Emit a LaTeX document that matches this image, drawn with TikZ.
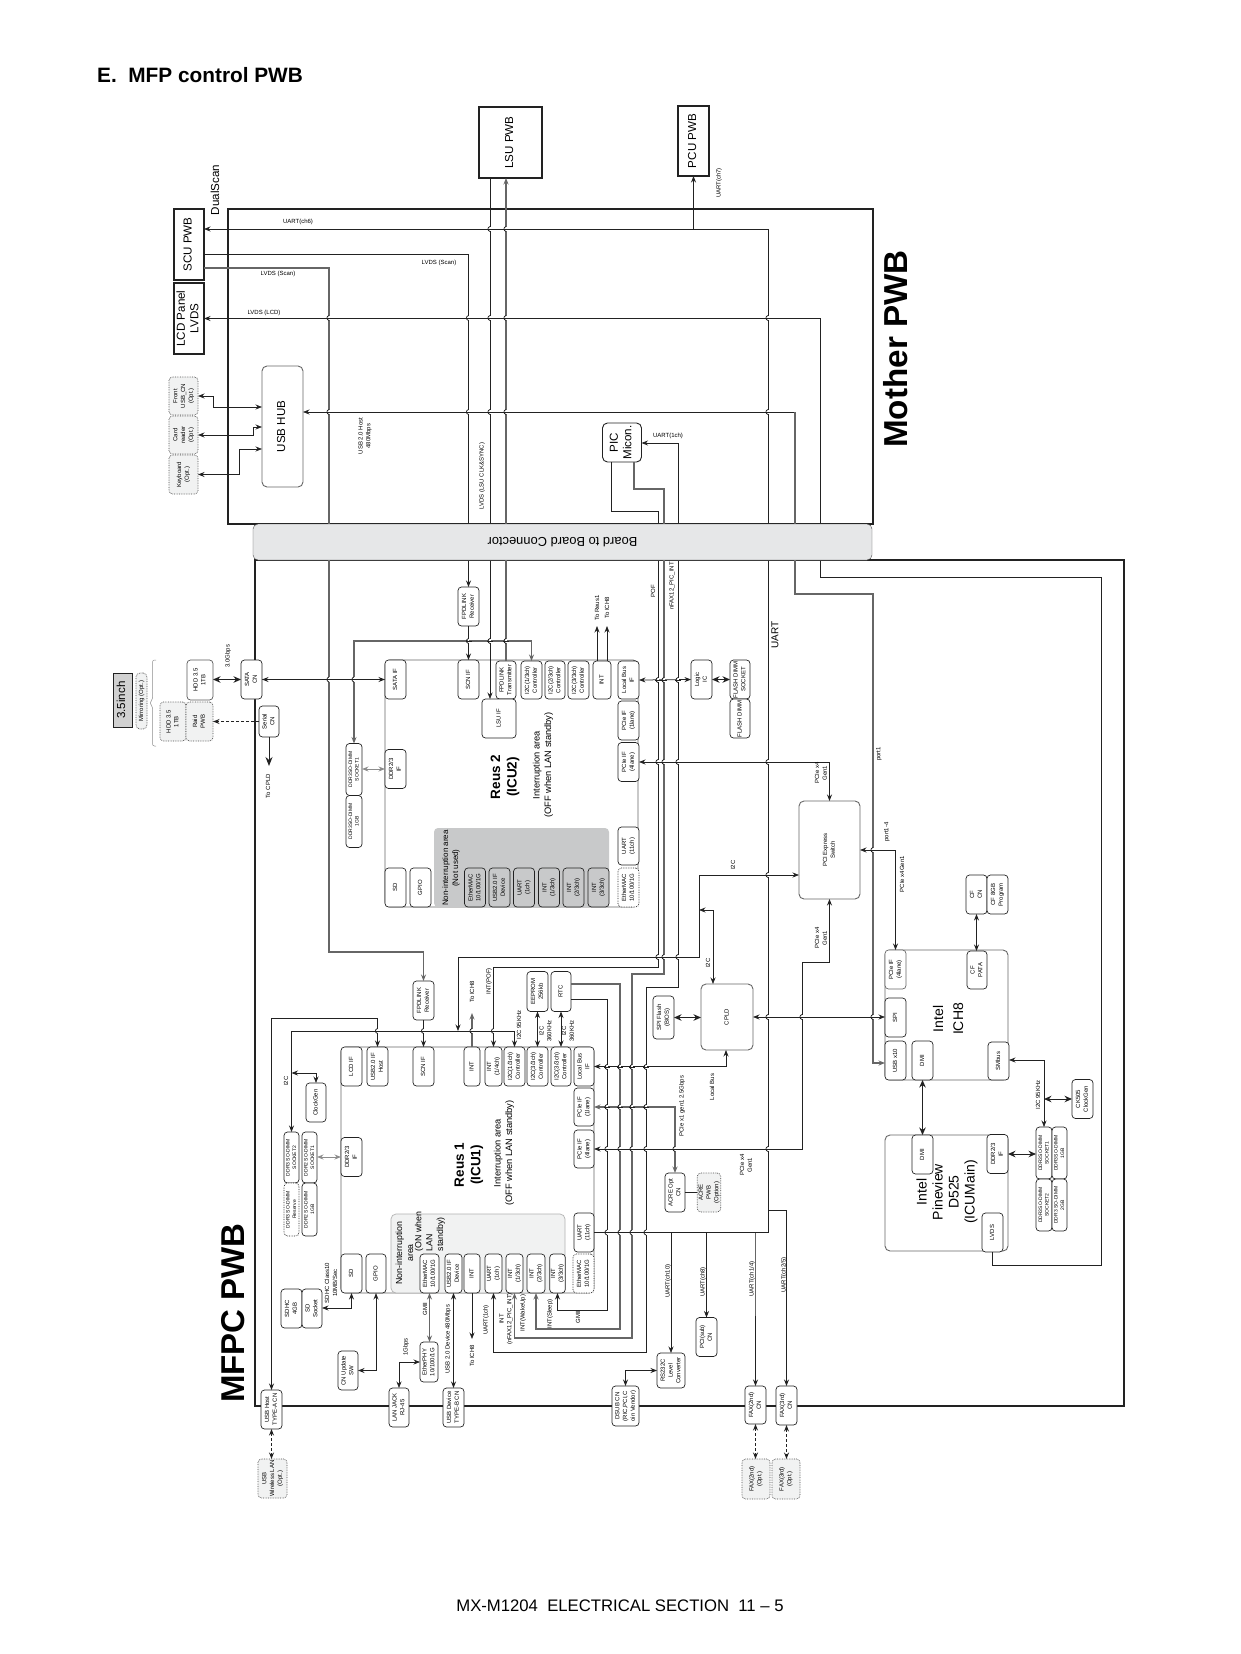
\documentclass[tikz,border=0pt]{standalone}
\usepackage{fontspec}
\usepackage{graphicx}
\setmainfont{Liberation Sans}
\usetikzlibrary{arrows.meta,calc}
\definecolor{cInk}{HTML}{222222}
\definecolor{cWire}{HTML}{666666}
\definecolor{cOpt}{HTML}{F1F2F2}
\definecolor{cBoard}{HTML}{E6E7E8}
\definecolor{cNon}{HTML}{C8C9CA}
\newcommand{\fA}{\fontsize{6}{7.8}\selectfont}
\newcommand{\fD}{\fontsize{5}{6.6}\selectfont}
\newcommand{\fB}{\fontsize{11.6}{13.5}\selectfont}
\newcommand{\fC}{\fontsize{9.3}{11.5}\selectfont}
\newcommand{\fE}{\fontsize{8}{10}\selectfont}
\newcommand{\rt}[1]{\rotatebox{90}{\begin{tabular}{@{}c@{}}#1\end{tabular}}}
\tikzset{
  sz/.style 2 args = {minimum width=#1pt, minimum height=#2pt},
  pin/.style   = {draw=cInk, rounded corners=3.5pt, fill=white, inner sep=0pt, outer sep=0pt,
                  line width=.7pt, minimum width=21pt, minimum height=39pt, font=\fA},
  dpin/.style  = {pin, densely dotted},
  opt/.style   = {pin, densely dotted, fill=cOpt, draw=black!70},
  dimm/.style  = {pin, minimum width=16pt, minimum height=52pt, font=\fD},
  pwb/.style   = {draw=cInk, line width=1.8pt, fill=white, inner sep=0pt, outer sep=0pt, font=\fB},
  frame/.style = {draw=cInk, line width=1.8pt, inner sep=0pt, outer sep=0pt},
  chip/.style  = {draw=black!60, rounded corners=5pt, fill=white, inner sep=0pt, outer sep=0pt,
                  line width=.9pt},
  wire/.style  = {draw=cInk, line width=.75pt},
  gwire/.style = {draw=cWire, line width=1.1pt},
  arr/.style   = {-{Stealth[length=6.5pt,width=5pt]}},
  rarr/.style  = {{Stealth[length=6.5pt,width=5pt]}-},
  dbl/.style   = {{Stealth[length=6.5pt,width=5pt]}-{Stealth[length=6.5pt,width=5pt]}},
  fat/.style   = {{Stealth[length=7.5pt,width=6.5pt]}-{Stealth[length=7.5pt,width=6.5pt]}, line width=1pt},
  lab/.style   = {font=\fA, rotate=90, align=center, inner sep=0pt},
  hlab/.style  = {font=\fA, align=center, inner sep=0pt},
  zone/.style  = {font=\fC, rotate=90, align=center, inner sep=0pt},
  hopw/.style  = {draw=white, line width=1.4pt},
  hopl/.style  = {draw=cInk, line width=.75pt},
}
\begin{document}
\begin{tikzpicture}[x=1pt, y=-1pt]
  \useasboundingbox (0,0) rectangle (1240,1654);
  \node[font=\fontsize{20.8}{24}\selectfont\bfseries, anchor=west, inner sep=0pt] (title) at (97,75) {E.\ \ MFP control PWB};
  \node[font=\fontsize{16.7}{20}\selectfont, inner sep=0pt] (foot) at (620,1605.5) {MX-M1204\ \ ELECTRICAL SECTION\ \ 11 -- 5};

  \node[frame, sz={645}{315}] (mother) at (550.5,366.5) {};
  \node[frame, sz={869}{846}] (mfpc) at (689.5,983) {};
  \node[font=\fontsize{33.2}{36}\selectfont\bfseries, rotate=90, inner sep=0pt] (mothert) at (896,349) {Mother PWB};
  \node[font=\fontsize{33}{36}\selectfont\bfseries, rotate=90, inner sep=0pt] (mfpct) at (233,1313) {MFPC PWB};
  \node[font=\fB, rotate=90, inner sep=0pt] (dual) at (215,190) {DualScan};

  \node[pwb, sz={63}{71}] (lsu) at (510.5,142.5) {\rt{LSU PWB}};
  \node[pwb, sz={31}{70}] (pcu) at (693.5,141) {\rt{PCU PWB}};
  \node[pwb, sz={30}{71}] (scu) at (189,244.5) {\rt{SCU PWB}};
  \node[pwb, sz={30}{71}] (lcd) at (189,318.5) {\rt{LCD Panel\\LVDS}};
  \node[chip, sz={41}{121}, font=\fB] (hub) at (282.5,426.5) {\rt{USB HUB}};
  \node[chip, sz={39}{39}, font=\fB, draw=cInk] (pic) at (622,442.5) {\rt{PIC\\Micon.}};
  \node[opt, sz={29}{38}] (front) at (183.5,396) {\rt{Front\\USB\_CN\\(Opt.)}};
  \node[opt, sz={29}{38}] (card) at (183.5,435) {\rt{Card\\reader\\(Opt.)}};
  \node[opt, sz={29}{39}] (keyb) at (183.5,474.5) {\rt{Keyboard\\(Opt.)}};

  \node[chip, sz={253}{247}] (reusb) at (511.5,783.5) {};
  \node[pin, draw=none, fill=cNon, rounded corners=4pt, sz={175}{79}] (nonb) at (521.5,867.5) {};
  \node[pin] (sataif) at (395.5,679.5) {\rt{SATA IF}};
  \node[pin] (ddrb) at (395.5,769) {\rt{DDR2/3\\IF}};
  \node[pin] (sdb) at (395.5,887.5) {\rt{SD}};
  \node[pin] (gpiob) at (420.5,887.5) {\rt{GPIO}};
  \node[pin] (scnb) at (468.5,679.5) {\rt{SCN IF}};
  \node[pin] (fpdb) at (468.5,606.5) {\rt{FPDLINK\\Receiver}};
  \node[pin, sz={20}{38}] (txb) at (506,680) {\rt{FPDLINK\\Transmitter}};
  \node[pin, sz={34}{39}] (lsuif) at (499,718.5) {\rt{LSU IF}};
  \node[pin, sz={21}{38}] (i2cba) at (531.5,680) {\rt{I2C(1/3ch)\\Controller}};
  \node[pin, sz={20}{38}] (i2cbb) at (555,680) {\rt{I2C(2/3ch)\\Controller}};
  \node[pin, sz={21}{38}] (i2cbc) at (578.5,680) {\rt{I2C(3/3ch)\\Controller}};
  \node[pin, sz={18}{38}] (intb) at (602,680) {\rt{INT}};
  \node[pin, sz={21}{38}] (lbb) at (628.5,680) {\rt{Local Bus\\IF}};
  \node[pin] (pcieba) at (628.5,720.5) {\rt{PCIe IF\\(1lane)}};
  \node[pin] (pciebb) at (628.5,762) {\rt{PCIe IF\\(4lane)}};
  \node[pin, sz={21}{38}] (uartbb) at (628.5,846) {\rt{UART\\(11ch)}};
  \node[dpin] (macbb) at (628.5,887.5) {\rt{EtherMAC\\10/100/1G}};
  \node[pin, fill=cNon] (macb) at (475,887.5) {\rt{EtherMAC\\10/100/1G}};
  \node[pin, fill=cNon] (usbdb) at (499.5,887.5) {\rt{USB2.0 IF\\Device}};
  \node[pin, fill=cNon] (uartb) at (524,887.5) {\rt{UART\\(1ch)}};
  \node[pin, fill=cNon] (intba) at (549,887.5) {\rt{INT\\(1/3ch)}};
  \node[pin, fill=cNon] (intbb) at (573.5,887.5) {\rt{INT\\(2/3ch)}};
  \node[pin, fill=cNon] (intbc) at (598.5,887.5) {\rt{INT\\(3/3ch)}};
  \node[zone, font=\fE] (nonbt) at (451,868) {Non-interruption area\\(Not used)};
  \node[zone, font=\fontsize{13.5}{16.5}\selectfont\bfseries] (reusbt) at (505,777) {Reus 2\\(ICU2)};
  \node[zone] (reusbc) at (543,765) {Interruption area\\(OFF when LAN standby)};

  \node[pin] (satacn) at (251.5,679.5) {\rt{SATA\\CN}};
  \node[pin, sz={26}{40}, draw=black!65] (hdda) at (200,680) {\rt{HDD 3.5\\1TB}};
  \node[opt, sz={26}{39}] (hddb) at (173,721.5) {\rt{HDD 3.5\\1TB}};
  \node[opt, sz={27}{39}] (raid) at (199.5,721.5) {\rt{Raid\\PWB}};
  \node[pin, sz={20}{31}] (serial) at (269,721.5) {\rt{Serial\\CN}};
  \node[opt, sz={11}{56}, rounded corners=4pt] (mirror) at (141.5,701) {\rt{Mirroring (Opt.)}};
  \node[draw=cInk, fill=black!18, sz={19}{54}, inner sep=0pt, font=\fB] (inch) at (122.5,700) {\rt{3.5inch}};
  \node[dimm] (sockb) at (354,769.5) {\rt{DDR3SO-DIMM\\SOCKET1}};
  \node[dimm] (ramb) at (354,821.5) {\rt{DDR3SO-DIMM\\1GB}};

  \node[pin] (logic) at (701.5,679.5) {\rt{Logic\\IC}};
  \node[pin, sz={20}{39}] (flashs) at (740,679.5) {\rt{FLASH DIMM\\SOCKET}};
  \node[pin, sz={20}{39}] (flashd) at (740,718.5) {\rt{FLASH DIMM}};
  \node[chip, sz={61}{98}, font=\fA] (switch) at (829.5,850) {\rt{PCI Express\\Switch}};
  \node[chip, sz={52}{66}, font=\fA] (cpld) at (727,1017) {\rt{CPLD}};
  \node[pin, sz={21}{43}] (spifl) at (663.5,1017.5) {\rt{SPI Flash\\(BIOS)}};

  \node[chip, sz={253}{246}] (reusa) at (467.5,1170) {};
  \node[pin, draw=black!30, fill=cOpt, rounded corners=5pt, sz={174}{79}] (nona) at (478,1253.5) {};
  \node[pin] (lcdif) at (351.5,1066.5) {\rt{LCD IF}};
  \node[pin] (usbha) at (377.5,1066.5) {\rt{USB2.0 IF\\Host}};
  \node[pin] (scna) at (423.5,1066.5) {\rt{SCN IF}};
  \node[pin] (fpda) at (423.5,1000.5) {\rt{FPDLINK\\Receiver}};
  \node[pin, sz={16}{39}] (inta) at (472,1066.5) {\rt{INT}};
  \node[pin, sz={17}{39}] (intp) at (493.5,1066.5) {\rt{INT\\(1/4ch)}};
  \node[pin] (i2caa) at (514.5,1066.5) {\rt{I2C(1/3ch)\\Controller}};
  \node[pin] (i2cab) at (537.5,1066.5) {\rt{I2C(3/3ch)\\Controller}};
  \node[pin, sz={20}{39}] (i2cac) at (561,1066.5) {\rt{I2C(3/3ch)\\Controller}};
  \node[pin, sz={20}{39}] (lba) at (584,1066.5) {\rt{Local Bus\\IF}};
  \node[pin, sz={20}{38}] (pcieaa) at (584,1107) {\rt{PCIe IF\\(1lane)}};
  \node[pin, sz={20}{38}] (pcieab) at (584,1149) {\rt{PCIe IF\\(4lane)}};
  \node[pin, sz={20}{39}] (uartaa) at (584,1232.5) {\rt{UART\\(11ch)}};
  \node[dpin, sz={21}{39}] (macaa) at (583.5,1273.5) {\rt{EtherMAC\\10/100/1G}};
  \node[pin, sz={21}{40}] (eeprom) at (537.5,991.5) {\rt{EEPROM\\256kb}};
  \node[pin, sz={20}{40}] (rtc) at (561,991.5) {\rt{RTC}};
  \node[pin] (ddra) at (351.5,1157) {\rt{DDR2/3\\IF}};
  \node[pin] (sda) at (351.5,1273.5) {\rt{SD}};
  \node[pin, sz={20}{39}] (gpioa) at (376,1273.5) {\rt{GPIO}};
  \node[pin, sz={19}{39}] (maca) at (429.5,1273.5) {\rt{EtherMAC\\10/100/1G}};
  \node[pin, sz={17}{39}] (usbda) at (453.5,1273.5) {\rt{USB2.0 IF\\Device}};
  \node[pin, sz={16}{39}] (intc) at (472,1273.5) {\rt{INT}};
  \node[pin, sz={17}{39}] (uarta) at (493.5,1273.5) {\rt{UART\\(1ch)}};
  \node[pin, sz={17}{39}] (intaa) at (514.5,1273.5) {\rt{INT\\(1/3ch)}};
  \node[pin, sz={18}{39}] (intab) at (536,1273.5) {\rt{INT\\(2/3ch)}};
  \node[pin, sz={15}{39}] (intac) at (557.5,1273.5) {\rt{INT\\(3/3ch)}};
  \node[zone, font=\fontsize{8.8}{10.8}\selectfont] (nonat) at (404.5,1253) {Non-interruption\\area};
  \node[zone, font=\fontsize{8.8}{10.8}\selectfont, align=left] (nonac) at (430,1231.5) {(ON when\\LAN\\standby)};
  \node[zone, font=\fontsize{13.5}{16.5}\selectfont\bfseries] (reusat) at (469,1165) {Reus 1\\(ICU1)};
  \node[zone] (reusac) at (504,1153) {Interruption area\\(OFF when LAN standby)};

  \node[dimm, sz={15}{51}] (socka) at (291.5,1157.5) {\rt{DDR3 SO-DIMM\\SOCKET2}};
  \node[dimm, sz={15}{53}, densely dotted] (resv) at (291.5,1209.5) {\rt{DDR3 SO-DIMM\\Reserve}};
  \node[dimm, sz={15}{51}] (sockc) at (309.5,1157.5) {\rt{DDR2 SO-DIMM\\SOCKET1}};
  \node[dimm, sz={15}{53}] (ramc) at (309.5,1209.5) {\rt{DDR2 SO-DIMM\\1GB}};
  \node[pin, sz={20}{39}] (clka) at (316,1102.5) {\rt{ClockGen}};
  \node[pin] (sdhc) at (291.5,1308.5) {\rt{SDHC\\4GB}};
  \node[pin, sz={20}{39}] (sdsock) at (312,1308.5) {\rt{SD\\Socket}};
  \node[pin, sz={20}{39}] (cnup) at (348,1370.5) {\rt{CN Update\\SW}};
  \node[pin, sz={18}{40}] (phy) at (429,1362) {\rt{EtherPHY\\10/100/1G}};
  \node[pin, sz={20}{39}] (lan) at (399,1407.5) {\rt{LAN JACK\\RJ-45}};
  \node[pin] (usbdev) at (453.5,1407.5) {\rt{USB Device\\TYPE-B CN}};
  \node[pin] (usbhost) at (271.5,1409.5) {\rt{USB Host\\TYPE-A CN}};
  \node[opt, sz={29}{39}] (wlan) at (272.5,1478.5) {\rt{USB\\Wireless LAN\\(Opt.)}};
  \node[pin, sz={27}{40}] (dsub) at (625.5,1406) {\rt{DSUB CN\\(RIC,PCI,C\\oin Vendor)}};
  \node[pin, sz={28}{35}] (rs232) at (671,1370.5) {\rt{RS232C\\Level\\Converter}};
  \node[pin] (pcisub) at (706.5,1337) {\rt{PCI(sub)\\CN}};
  \node[pin, sz={20}{39}] (acn) at (675,1192.5) {\rt{ACRE Opt\\CN}};
  \node[opt, sz={20}{39}] (acre) at (709,1192.5) {\rt{ACRE\\PWB\\(Option)}};
  \node[pin, sz={21}{38}] (faxb) at (755.5,1405) {\rt{FAX(2nd)\\CN}};
  \node[pin, sz={21}{39}] (faxc) at (786.5,1405.5) {\rt{FAX(3rd)\\CN}};
  \node[opt, sz={28}{40}] (faxbo) at (756,1479) {\rt{FAX(2nd)\\(Opt.)}};
  \node[opt, sz={28}{40}] (faxco) at (786,1479) {\rt{FAX(3rd)\\(Opt.)}};

  \node[chip, sz={123}{130}] (ich) at (946.5,1015) {};
  \node[pin, draw=black!60] (ichpcie) at (895.5,969.5) {\rt{PCIe IF\\(4lane)}};
  \node[pin] (ichspi) at (895.5,1017.5) {\rt{SPI}};
  \node[pin] (ichusb) at (895.5,1060.5) {\rt{USB x10}};
  \node[pin] (ichdmi) at (922.5,1060.5) {\rt{DMI}};
  \node[pin, sz={20}{38}] (ichcf) at (977,970) {\rt{CF\\PATA}};
  \node[pin, sz={21}{38}] (ichsm) at (998.5,1061) {\rt{SMbus}};
  \node[zone, font=\fontsize{14}{20}\selectfont] (icht) at (948,1019) {Intel\\ICH8};
  \node[pin] (cfcn) at (976.5,894.5) {\rt{CF\\CN}};
  \node[pin] (cfpg) at (997.5,894.5) {\rt{CF 8GB\\Program}};
  \node[chip, sz={123}{116}] (pine) at (946.5,1193) {};
  \node[pin] (pinedmi) at (922.5,1154.5) {\rt{DMI}};
  \node[pin] (pineddr) at (997.5,1154) {\rt{DDR2/3\\IF}};
  \node[pin] (pinelv) at (992.5,1232.5) {\rt{LVDS}};
  \node[zone, font=\fontsize{14}{16}\selectfont] (pinet) at (947,1192) {Intel\\Pineview\\D525\\(ICUMain)};
  \node[dimm] (socke) at (1044,1153) {\rt{DDR3SO-DIMM\\SOCKET1}};
  \node[dimm, sz={15}{52}] (rame) at (1059.5,1153) {\rt{DDR3SO-DIMM\\1GB}};
  \node[dimm] (sockf) at (1044,1205) {\rt{DDR3SO-DIMM\\SOCKET2}};
  \node[dimm, sz={15}{52}] (ramf) at (1059.5,1205) {\rt{DDR3 SO-DIMM\\2GB}};
  \node[pin] (ck) at (1082.5,1099) {\rt{CK505\\ClockGen}};

  \coordinate (i2cbus) at (458,1031);

  \draw[wire, rarr] (scu.east |- 0,229) -- (768,229) -- (768,1232.5) -- (uartaa.east);
  \draw[wire, arr] (693.5,229) -- (pcu.south);
  \draw[wire, arr] (768,1210) -- (786.5,1210) -- (faxc.north);
  \draw[wire, arr] (rs232.north |- 0,1232.5) -- (rs232.north);
  \draw[wire, arr] (pcisub.north |- 0,1232.5) -- (pcisub.north);
  \draw[gwire] (faxb.north |- 0,1232.5) -- (755.5,1316);
  \draw[wire, arr] (755.5,1316) -- (faxb.north);
  \draw[wire, arr] (scu.east |- 0,254) -| (fpdb.north);
  \draw[gwire, arr] (scu.east |- 0,268) -| (329,952) -| (fpda.north);
  \draw[wire, arr] (fpdb.south) -- (scnb.north);
  \draw[wire, arr] (fpda.south) -- (scna.north);
  \draw[wire, rarr] (lcd.east) -| (820,577) -| (1101,1265) -| (pinelv.south);
  \draw[wire, rarr] (hub.east |- 0,412) -- (795,412);
  \draw[gwire, arr] (795,412) |- (873,594) |- (ichusb.west |- 0,1063);
  \draw[wire, dbl] (front.east) -- (213,396) |- (hub.west |- 0,407);
  \draw[wire, dbl] (card.east) -- (253,435) |- (hub.west |- 0,427);
  \draw[wire, dbl] (keyb.east) -- (239,474.5) |- (hub.west |- 0,449);
  \draw[wire, arr] (490,0 |- lsu.south) -- (490,0 |- lsuif.north);
  \draw[gwire, arr] (506,0 |- txb.north) -- (lsu.south -| 506,0);
  \draw[wire, arr] (611,0 |- pic.south) |- (658,511) -- (658,967) -| (intp.north);
  \draw[gwire, arr] (634,0 |- pic.south) |- (664,489) -- (664,974) -| (632,1338) -| (intaa.south);
  \draw[wire, dbl] (pic.east |- 0,443) -| (678,987) -| (646,1352) -| (uarta.south);
  \draw[wire, arr] (rtc.east |- 0,999) -| (607,1310) -| (intac.south);
  \draw[gwire, arr] (rtc.east |- 0,984) -| (620,1329) -| (intab.south);
  \draw[gwire, dbl] (i2cba.north) |- (sockb.north |- 0,641) -- (sockb.north);
  \draw[gwire, line width=1.4pt] (satacn.east) -- (sataif.west);
  \draw[wire, dbl, line width=1pt] (satacn.east) -- (sataif.west);
  \draw[wire, fat] (hdda.east |- 0,679.5) -- (satacn.west);
  \draw[wire, densely dashed, arr, line width=.9pt] (serial.west) -- (raid.east);
  \draw[wire, -{Stealth[length=9pt,width=7pt]}, line width=1pt] (serial.south) -- (269,766);
  \draw[draw=black!45, dbl, line width=1pt] (sockb.east |- 0,769) -- (ddrb.west);
  \draw[wire, arr] (597,0 |- intb.north) -- (597,626);
  \draw[wire, arr] (607,0 |- intb.north) -- (607,626);
  \draw[wire, dbl] (lbb.east) -- (logic.west);
  \draw[wire, fat] (logic.east) -- (flashs.west);
  \draw[wire, dbl] (pciebb.east) -| (switch.north);
  \draw[wire, dbl] (switch.south) |- (802,962) |- (pcieab.east);
  \draw[wire, dbl] (switch.west |- 0,875) -| (699,957) -| (i2cbus);
  \draw[wire, dbl] (713,0 |- cpld.north) |- (699,910);
  \draw[wire, dbl] (cpld.east) -- (cpld.east -| ichspi.west);
  \draw[wire, fat] (spifl.east) -- (spifl.east -| cpld.west);
  \draw[wire, dbl] (lba.east) -| (726,0 |- cpld.south);
  \draw[gwire, dbl] (pcieaa.east) -| (acn.north);
  \draw[wire] (acn.east) -- (acre.west);
  \draw[wire, dbl] (rs232.west) -| (dsub.north);
  \draw[wire, dbl] (usbha.north) |- (usbhost.north |- 0,1018) -- (usbhost.north);
  \draw[wire, dbl] (i2caa.north) |- (socka.north |- 0,1031) -- (socka.north);
  \draw[wire, dbl] (clka.north) |- (socka.north |- 0,1073);
  \draw[draw=black!45, dbl, line width=1pt] (sockc.east |- 0,1157) -- (ddra.west);
  \draw[gwire, arr, line width=1.4pt] (inta.north) -- (inta.north |- 0,1013);
  \draw[wire, dbl] (eeprom.south) -- (i2cab.north);
  \draw[wire, dbl] (rtc.south) -- (i2cac.north);
  \draw[wire, dbl] (sda.south) |- (sdsock.east |- 0,1308);
  \draw[wire, dbl, line width=1pt] (gpioa.south) |- (cnup.east);
  \draw[gwire, dbl] (maca.south) -- (phy.north -| maca.south);
  \draw[wire, dbl] (phy.west) -| (lan.north);
  \draw[wire, dbl] (usbda.south) -- (usbdev.north);
  \draw[wire, arr] (intc.south) -- (472,1339);
  \draw[wire, densely dashed, dbl, line width=1pt] (usbhost.south) -- (wlan.north -| usbhost.south);
  \draw[wire, densely dashed, dbl, line width=1pt] (faxb.south) -- (faxbo.north -| faxb.south);
  \draw[wire, densely dashed, dbl, line width=1pt] (faxc.south) -- (faxco.north -| faxc.south);
  \draw[wire, dbl] (cfcn.south) -- (ichcf.north -| cfcn.south);
  \draw[wire, fat] (ichdmi.south) -- (pinedmi.north);
  \draw[wire, fat] (pineddr.east) -- (socke.west |- pineddr.east);
  \draw[wire, dbl] (ichsm.east |- 0,1060) -| (socke.north);
  \draw[wire, fat] (1044,1099) -- (ck.west);
  \draw[wire, dbl] (switch.east) -- (895.5,850) -- (ichpcie.north);
  \draw[draw=black!45, line width=.5pt, rounded corners=2pt] (156,660) -- (152.5,660) -- (152.5,700) -- (149.5,703) -- (152.5,706) -- (152.5,746) -- (156,746);

  \foreach \x/\y in {329/318,329/412,329/679.5,354/679.5,468.5/318,468.5/412,468.5/641,
      490/229,490/318,490/412,490/641,506/229,506/318,506/412,506/641,768/318,768/412,
      658/680,664/680,678/680,658/762,664/762,678/762,768/762,658/957,664/957,678/957,
      768/875,768/1017,802/1017,873/1017,873/850,
      607/1067,620/1067,632/1067,646/1067,607/1107,620/1107,632/1107,646/1107,
      607/1149,620/1149,632/1149,646/1149,675/1149,768/1149,
      607/1232.5,620/1232.5,632/1232.5,646/1232.5,
      377.5/1031,423.5/1031,472/1031,493.5/1031}{
    \draw[hopw] (\x,\y-2.2) -- (\x,\y+2.2);
    \draw[hopl] (\x-3,\y) -- (\x+3,\y);
    \draw[hopl] (\x,\y-2.5) .. controls (\x-2.8,\y-1.5) and (\x-2.8,\y+1.5) .. (\x,\y+2.5);
  }

  \node[draw=black!70, fill=cBoard, rounded corners=5pt, sz={619}{36}, inner sep=0pt, outer sep=0pt,
        font=\fontsize{12.9}{14}\selectfont] (board) at (562.5,542) {\rotatebox{180}{Board to Board Connector}};

  \node[hlab] (luart) at (298,222) {UART(ch6)};
  \node[hlab] (lscana) at (439,263) {LVDS (Scan)};
  \node[hlab] (lscanb) at (278,274) {LVDS (Scan)};
  \node[hlab] (llcd) at (264,313) {LVDS (LCD)};
  \node[hlab] (lpic) at (668,436) {UART(1ch)};
  \node[lab] (lpcu) at (719,183) {UART(ch7)};
  \node[lab] (lhost) at (365,436) {USB 2.0 Host\\480Mbps};
  \node[lab] (lsync) at (482,476) {LVDS (LSU CLK\&SYNC)};
  \node[lab] (lgbps) at (228,656) {3.0Gbps};
  \node[lab] (lcpld) at (268,786) {To CPLD};
  \node[lab] (lreus) at (597,608) {To Reus1};
  \node[lab] (lich) at (607,608) {To ICH8};
  \node[lab] (lpof) at (653,591) {POF};
  \node[lab] (lfax) at (672,586) {nFAX12\_PIC\_INT};
  \node[lab, font=\fontsize{10}{12}\selectfont] (luartb) at (775,635) {UART};
  \node[lab] (lswa) at (821,773) {PCIe x4\\Gen1};
  \node[lab] (lswb) at (821,938) {PCIe x4\\Gen1};
  \node[lab] (li2cb) at (733,865) {I2C};
  \node[lab] (li2cc) at (708,963) {I2C};
  \node[lab] (lportb) at (879,754) {port1};
  \node[lab] (lporta) at (887,832) {port1-4};
  \node[lab] (lichx) at (902,874) {PCIe x4Gen1};
  \node[lab] (lbus) at (712,1087) {Local Bus};
  \node[lab] (lx) at (682,1106) {PCIe x1 gen1 2.5Gbps};
  \node[lab] (lxf) at (746,1165) {PCIe x4\\Gen1};
  \node[lab] (lua) at (668,1281) {UART(ch10)};
  \node[lab] (lub) at (703,1282) {UART(ch8)};
  \node[lab] (luc) at (752,1279) {UART(ch1/4)};
  \node[lab] (lud) at (784,1275) {UART(ch2/5)};
  \node[lab] (lichb) at (472,992) {To ICH8};
  \node[lab] (lpofb) at (489,981) {INT(POF)};
  \node[lab] (lkh) at (519,1025) {I2C 95KHz};
  \node[lab] (lka) at (545.5,1031) {I2C\\360KHz};
  \node[lab] (lkb) at (568,1031) {I2C\\360KHz};
  \node[lab] (li2ca) at (286,1081) {I2C};
  \node[lab] (lsdhc) at (331,1283) {SDHC Class10\\10MB/Sec};
  \node[lab] (lgmii) at (425,1309) {GMII};
  \node[lab] (l1g) at (406,1347) {1Gbps};
  \node[lab] (lusbd) at (448,1339) {USB 2.0 Device 480Mbps};
  \node[lab] (lich2) at (472,1356) {To ICH8};
  \node[lab] (luart1) at (486,1320) {UART(1ch)};
  \node[lab] (lintf) at (506,1319) {INT\\(nFAX12\_PIC\_INT)};
  \node[lab] (lwake) at (523,1313) {INT(WakeUp)};
  \node[lab] (lsleep) at (550,1314) {INT(Sleep)};
  \node[lab] (lgmb) at (578,1317) {GMII};
  \node[lab] (l95) at (1038,1095) {I2C 95KHz};
\end{tikzpicture}
\end{document}
